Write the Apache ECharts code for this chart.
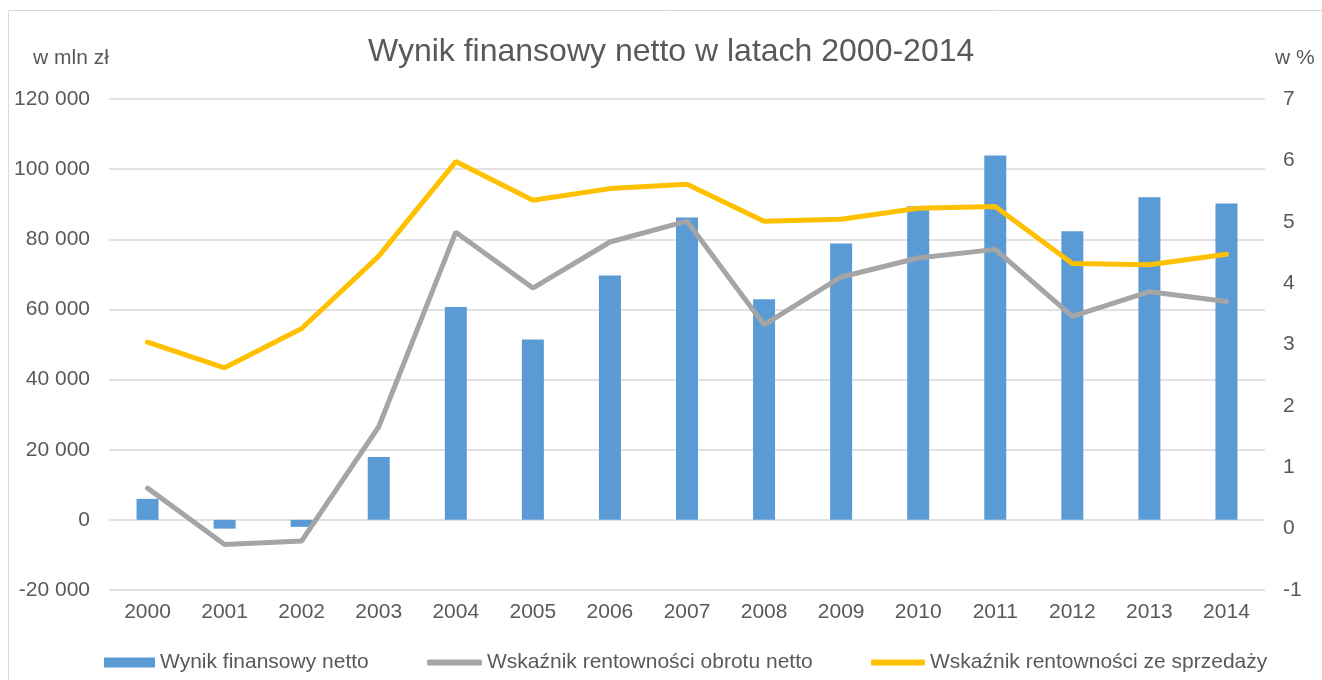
<!DOCTYPE html>
<html>
<head>
    <meta charset="utf-8">
    <title>Wynik finansowy netto</title>
    <script src="https://cdn.jsdelivr.net/npm/echarts@6/dist/echarts.min.js"></script>
    <style>
        html, body { margin: 0; padding: 0; background: #fff; }
        #chart { width: 1322px; height: 680px; }
    </style>
</head>
<body>
<div id="chart"></div>
<script>
    // dane
    var years = ['2000', '2001', '2002', '2003', '2004', '2005', '2006', '2007',
                 '2008', '2009', '2010', '2011', '2012', '2013', '2014'];
    var wynikNetto = [6000, -2500, -2000, 17900, 60700, 51400, 69700, 86200,
                      62900, 78800, 89400, 103900, 82300, 92000, 90200];
    var rentObrotu = [0.66, -0.26, -0.2, 1.66, 4.83, 3.92, 4.67, 5.01,
                      3.32, 4.10, 4.41, 4.55, 3.46, 3.86, 3.70];
    var rentSprzedazy = [3.04, 2.62, 3.26, 4.44, 5.98, 5.35, 5.54, 5.61,
                         5.01, 5.04, 5.22, 5.25, 4.32, 4.30, 4.47];
    var seriesNames = ['Wynik finansowy netto', 'Wskaźnik rentowności obrotu netto',
                       'Wskaźnik rentowności ze sprzedaży'];

    var txt = '#595959';
    var font = 'Liberation Sans, Arial, sans-serif';

    function fmt(v) {
        var s = String(Math.abs(v)).replace(/\B(?=(\d{3})+(?!\d))/g, ' ');
        return (v < 0 ? '-' : '') + s;
    }

    var chart = echarts.init(document.getElementById('chart'));
    var legendBase = {
        top: 652, padding: 0, itemGap: 0, itemHeight: 6,
        textStyle: { color: txt, fontSize: 21, fontFamily: font },
        selectedMode: false
    };
    var option = {
        animation: false,
        textStyle: { fontFamily: font },
        title: {
            text: 'Wynik finansowy netto w latach 2000-2014',
            left: 368, top: 36, padding: 0,
            textStyle: { color: txt, fontSize: 32, fontWeight: 'normal', fontFamily: font }
        },
        graphic: [
            { type: 'rect', shape: { x: 8.5, y: 10.5, width: 1400, height: 700 },
              style: { fill: 'none', stroke: '#d9d9d9', lineWidth: 1 }, silent: true },
            { type: 'text', left: 33, top: 48,
              style: { text: 'w mln zł', fill: txt, fontSize: 21, fontFamily: font } },
            { type: 'text', left: 1275, top: 48,
              style: { text: 'w %', fill: txt, fontSize: 21, fontFamily: font } }
        ],
        legend: [
            Object.assign({}, legendBase, { left: 104, itemWidth: 51, itemHeight: 10,
                data: [{ name: seriesNames[0], icon: 'rect' }] }),
            Object.assign({}, legendBase, { left: 427, itemWidth: 55,
                data: [{ name: seriesNames[1], icon: 'roundRect' }] }),
            Object.assign({}, legendBase, { left: 871, itemWidth: 54,
                data: [{ name: seriesNames[2], icon: 'roundRect' }] })
        ],
        grid: { left: 109, right: 57, top: 99, bottom: 90 },
        xAxis: {
            type: 'category',
            data: years,
            axisLine: { show: false },
            axisTick: { show: false },
            axisLabel: { color: txt, fontSize: 21, margin: 12 }
        },
        yAxis: [
            {
                type: 'value', min: -20000, max: 120000, interval: 20000,
                axisLine: { show: false }, axisTick: { show: false },
                axisLabel: { color: txt, fontSize: 21, margin: 19, formatter: fmt },
                splitLine: { lineStyle: { color: '#d9d9d9', width: 1.5 } }
            },
            {
                type: 'value', min: -1, max: 7, interval: 1,
                axisLine: { show: false }, axisTick: { show: false },
                axisLabel: { color: txt, fontSize: 21, margin: 18 },
                splitLine: { show: false }
            }
        ],
        series: [
            {
                name: seriesNames[0], type: 'bar', data: wynikNetto,
                barWidth: 22,
                itemStyle: { color: '#5b9bd5' }
            },
            {
                name: seriesNames[1], type: 'line', yAxisIndex: 1, data: rentObrotu,
                symbol: 'none', lineStyle: { color: '#a5a5a5', width: 5, cap: 'round' },
                itemStyle: { color: '#a5a5a5' }
            },
            {
                name: seriesNames[2], type: 'line', yAxisIndex: 1, data: rentSprzedazy,
                symbol: 'none', lineStyle: { color: '#ffc000', width: 5, cap: 'round' },
                itemStyle: { color: '#ffc000' }
            }
        ]
    };
    chart.setOption(option);
</script>
</body>
</html>
